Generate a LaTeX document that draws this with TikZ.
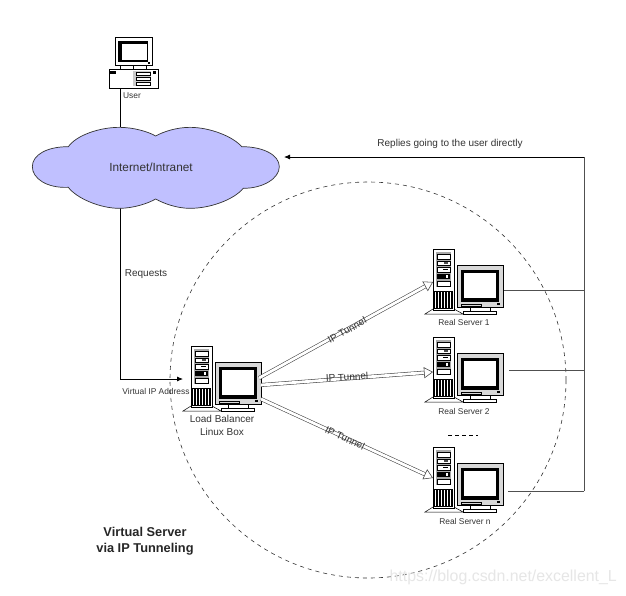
\documentclass[tikz,border=0pt]{standalone}
\usepackage{fontspec}
\setmainfont{Liberation Sans}
\usetikzlibrary{arrows.meta}
\definecolor{cloudfill}{HTML}{C0C0FF}
\definecolor{wiregray}{HTML}{505050}
\definecolor{casegray}{HTML}{A8A8A8}
\definecolor{markgray}{HTML}{E6E6E6}
\tikzset{
  label text/.style={inner sep=0pt,font=\fontsize{8.4}{10}\selectfont,text=black!80},
  wide text/.style={inner sep=0pt,font=\fontsize{10}{12}\selectfont,text=black!80},
  title text/.style={inner sep=0pt,font=\fontsize{12.8}{15}\selectfont\bfseries,text=black!85},
  wire/.style={draw=wiregray,line width=0.8pt},
  feed/.style={draw=black,line width=0.8pt},
  tunnel/.style={draw=black!75,line width=0.55pt,double=white,double distance=2.8pt,
    -{Triangle[open,length=9pt,width=11pt,line width=0.55pt,fill=white]}},
  part/.style={draw=black,line width=0.5pt,fill=white},
  server/.pic={
    % tower feet
    \draw[part] (-8,65) -- (0,60) -- (21,60) -- (30,65) -- cycle;
    % tower case and drive bays
    \draw[part] (0,0) rectangle (21.5,61);
    \fill[casegray] (3,3) rectangle (18,38);
    \draw[part,fill=white] (4,5) rectangle (17,10);
    \draw[part,fill=white] (4,12) rectangle (17,16);
    \fill[black!70] (11,13) rectangle (15,15);
    \draw[part,fill=white] (4,18) rectangle (17,23);
    \fill[black] (10,20) rectangle (15,21.4);
    \fill[black] (4,25) rectangle (17,30);
    \fill[white] (13,26) rectangle (15,29);
    \draw[part] (4,32) rectangle (17,37);
    % ventilation slots
    \fill[black] (1,42) rectangle (20,60);
    \foreach \vx in {3,6,9,12,15,18} {\fill[white] (\vx-.7,43) rectangle (\vx+.2,59);}
    % monitor
    \draw[part] (37,58) rectangle (57,62);
    \draw[part] (30,62) rectangle (63,65);
    \draw[draw=black,line width=0.5pt,fill=casegray!45] (24,16) rectangle (70,58);
    \fill[black] (28,21) rectangle (66,53);
    \fill[white] (31,24) rectangle (63,49);
    \draw[black,line width=0.5pt] (28,55) rectangle (48,57);
    \fill[black] (64,54) rectangle (67,56);
  },
  desktop/.pic={
    % monitor
    \draw[part] (6,0) rectangle (43,28);
    \fill[black] (9,4) rectangle (39,25);
    \fill[white] (13,7) rectangle (38,23);
    \fill[black] (39,25) rectangle (41,27);
    \draw[black,line width=.5pt] (11,28) -- (11,32) (24,28) -- (24,32) (37,28) -- (37,32);
    % system unit
    \draw[part] (0,32) rectangle (49,51);
    \fill[black] (1,34) rectangle (7,36.5);
    \fill[casegray!60] (24,34) rectangle (42,49);
    \draw[part] (27,35) rectangle (41,38);
    \draw[part] (27,40) rectangle (41,43);
    \draw[part] (27,45) rectangle (41,48);
    \fill[black] (44,34) rectangle (47,37);
  }
}
\begin{document}
\begin{tikzpicture}[x=1pt,y=-1pt]
\useasboundingbox (0,0) rectangle (626,595);
\fill[white] (0,0) rectangle (626,595);

% grouping circle of the virtual server
\coordinate (groupcentre) at (368,380);
\draw[black!80,line width=0.6pt,dash pattern=on 4pt off 4pt] (groupcentre) circle[radius=198pt];

% anchor points of the connectors
\coordinate (userport) at (120,88);
\coordinate (cloudtop) at (120,127);
\coordinate (cloudbottom) at (120,208);
\coordinate (requestbend) at (120,379);
\coordinate (balancerin) at (183,379);
\coordinate (cloudreply) at (284,157);
\coordinate (replycorner) at (584,157);
\coordinate (replyend) at (584,491);
\coordinate (srvoneout) at (503,290);
\coordinate (srvtwoout) at (509,370);
\coordinate (srvnout) at (508,491);
\coordinate (srvonejoin) at (584,290);
\coordinate (srvtwojoin) at (584,370);
\coordinate (lbone) at (259,378);
\coordinate (lbtwo) at (261,385);
\coordinate (lbn) at (261,399);
\coordinate (srvonein) at (433,282);
\coordinate (srvtwoin) at (433,372);
\coordinate (srvnin) at (433,478);

% wires behind the cloud and the machines
\draw[feed] (userport) -- (cloudtop);
\draw[feed] (cloudbottom) -- (requestbend);
\draw[feed,-{Latex[length=6pt,width=5pt]}] (requestbend) -- (balancerin);
\draw[wire] (replyend) -- (replycorner);
\draw[feed,-{Latex[length=6pt,width=5pt]}] (replycorner) -- (cloudreply);
\draw[wire] (srvoneout) -- (srvonejoin);
\draw[wire] (srvtwoout) -- (srvtwojoin);
\draw[wire] (srvnout) -- (replyend);

% the network cloud
\begin{scope}[xshift=20pt,yshift=-110pt,x=.3333pt,y=-.3333pt]
\draw[draw=black!80,line width=0.7pt,fill=cloudfill]
  (37,170) .. controls (37,135) and (80,110) .. (145,110)
  .. controls (170,75) and (240,52) .. (298,52)
  .. controls (340,52) and (385,65) .. (407,78)
  .. controls (430,65) and (470,52) .. (510,52)
  .. controls (570,52) and (640,80) .. (665,110)
  .. controls (730,110) and (778,135) .. (778,170)
  .. controls (778,205) and (730,235) .. (670,235)
  .. controls (640,270) and (570,295) .. (510,295)
  .. controls (470,295) and (430,280) .. (407,267)
  .. controls (385,280) and (340,295) .. (298,295)
  .. controls (240,295) and (170,265) .. (145,232)
  .. controls (80,235) and (37,205) .. (37,170) -- cycle;
\end{scope}
\node[inner sep=0pt,font=\fontsize{11.8}{13}\selectfont,text=black!80] (cloudname) at (151,167) {Internet/Intranet};

% machines
\pic (user) at (109,37) {desktop};
\pic (balancer) at (191,346) {server};
\pic (srvone) at (433,249) {server};
\pic (srvtwo) at (433,337) {server};
\pic (srvn) at (433,447) {server};

% tunnels from the balancer to the real servers
\draw[tunnel] (lbone) -- (srvonein);
\draw[tunnel] (lbtwo) -- (srvtwoin);
\draw[tunnel] (lbn) -- (srvnin);
\node[wide text,rotate=29] (tunnelone) at (347,330) {IP Tunnel};
\node[wide text,rotate=3] (tunneltwo) at (347,377) {IP Tunnel};
\node[wide text,rotate=-25] (tunneln) at (345,438) {IP Tunnel};

% labels
\node[label text] (username) at (132,96) {User};
\node[wide text] (requests) at (146,274) {Requests};
\node[wide text] (replies) at (450,144) {Replies going to the user directly};
\node[label text] (vip) at (156,391) {Virtual IP Address};
\node[wide text] (lbnameone) at (222,419) {Load Balancer};
\node[wide text] (lbnametwo) at (222,432) {Linux Box};
\node[label text] (srvonename) at (464,322) {Real Server 1};
\node[label text] (srvtwoname) at (464,411) {Real Server 2};
\node[label text] (srvnname) at (465,521) {Real Server n};
\draw[black,line width=.6pt,dash pattern=on 4pt off 3pt] (448,435) -- (478,435);
\node[title text] (titleone) at (145,532) {Virtual Server};
\node[title text] (titletwo) at (145,549) {via IP Tunneling};
\node[inner sep=0pt,anchor=east,font=\fontsize{15.9}{18}\selectfont,text=markgray] (mark) at (617,577) {https://blog.csdn.net/excellent\_L};
\end{tikzpicture}
\end{document}
